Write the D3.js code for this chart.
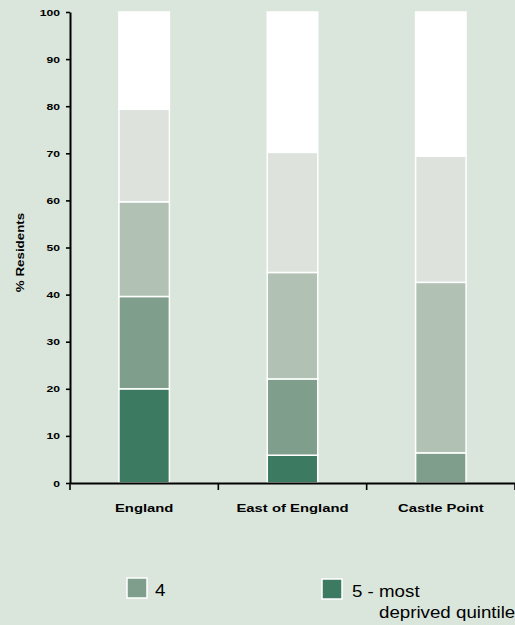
<!DOCTYPE html>
<html>
<head>
<meta charset="utf-8">
<script src="https://cdn.jsdelivr.net/npm/d3@7"></script>
<style>
  html, body { margin: 0; padding: 0; background: #dae6dc; }
  svg { display: block; }
  text { font-family: "Liberation Sans", Arial, sans-serif; fill: #000; }
</style>
</head>
<body>
<svg id="chart" width="515" height="625"></svg>
<script>
// ---- data ----
const categories = ["England", "East of England", "Castle Point"];
const seriesKeys = ["q5", "q4", "q3", "q2", "q1"]; // bottom to top
const seriesLabels = {
  q1: "1 - least deprived quintile",
  q2: "2",
  q3: "3",
  q4: "4",
  q5: "5 - most deprived quintile"
};
const q5 = [20.0, 5.9, 0.0];
const q4 = [19.6, 16.2, 6.4];
const q3 = [20.1, 22.6, 36.2];
const q2 = [19.7, 25.5, 26.8];
const q1 = [20.6, 29.8, 30.6];
const yTicks = [0, 10, 20, 30, 40, 50, 60, 70, 80, 90, 100];
const yLabel = "% Residents";
const legendKeys = ["q4", "q5"];

// ---- styles ----
const colors = { q1: "#ffffff", q2: "#dde2dd", q3: "#b1c1b4", q4: "#7f9e8b", q5: "#3c7a61" };

const rows = categories.map((c, i) => ({ cat: c, q1: q1[i], q2: q2[i], q3: q3[i], q4: q4[i], q5: q5[i] }));

const svg = d3.select("#chart");
const axisX = 70, plotRight = 515, yTop = 12, yBottom = 483;

const x = d3.scaleBand().domain(categories).range([axisX, plotRight]).padding(0);
const y = d3.scaleLinear().domain([0, 100]).range([yBottom, yTop]);
const barW = x.bandwidth() * 0.34;

const stacked = d3.stack().keys(seriesKeys)(rows);

// bars
svg.append("g").selectAll("g").data(stacked).join("g")
  .attr("fill", d => colors[d.key])
  .selectAll("rect").data(d => d.filter(s => s[1] - s[0] > 0)).join("rect")
  .attr("x", d => x(d.data.cat) + (x.bandwidth() - barW) / 2)
  .attr("width", barW)
  .attr("y", d => y(d[1]))
  .attr("height", d => y(d[0]) - y(d[1]))
  .attr("stroke", "#ffffff")
  .attr("stroke-width", 1.5);

// y axis
const gy = svg.append("g").attr("transform", `translate(${axisX},0)`)
  .call(d3.axisLeft(y).tickValues(yTicks).tickSize(4).tickSizeOuter(0).tickFormat(d3.format("d")));
gy.select(".domain").attr("stroke", "#000").attr("stroke-width", 2);
gy.selectAll(".tick line").attr("stroke", "#000").attr("stroke-width", 1.6);
gy.selectAll(".tick text")
  .attr("x", 0).attr("dy", "0.34em")
  .attr("transform", "translate(-10,0) scale(1.35,1)")
  .attr("text-anchor", "end")
  .style("font-size", "9px").style("font-weight", "bold").style("fill", "#000");

// x axis
const gx = svg.append("g").attr("transform", `translate(0,${yBottom})`)
  .call(d3.axisBottom(x).tickSize(0).tickSizeOuter(0));
gx.select(".domain").attr("stroke", "#000").attr("stroke-width", 2);
gx.selectAll(".tick text")
  .attr("y", 0).attr("dy", 0)
  .attr("transform", "translate(0,29) scale(1.29,1)")
  .attr("text-anchor", "middle")
  .style("font-size", "11.5px").style("font-weight", "bold").style("fill", "#000");
// boundary ticks
const bounds = categories.map(c => x(c)).concat([x.range()[1]]);
gx.selectAll(".bound").data(bounds).join("line").attr("class", "bound")
  .attr("x1", d => d).attr("x2", d => d)
  .attr("y1", 0).attr("y2", 7)
  .attr("stroke", "#000").attr("stroke-width", 1.6);

// y label
svg.append("text")
  .attr("transform", `translate(24,${(yTop + yBottom) / 2 + 5}) rotate(-90) scale(1.27,1)`)
  .attr("text-anchor", "middle")
  .style("font-size", "10.5px").style("font-weight", "bold")
  .text(yLabel);

// legend
const legendPos = {
  q4: { rx: 127, ry: 578, tx: 155, ty: 596, lines: [seriesLabels.q4] },
  q5: { rx: 322, ry: 579, tx: 352, ty: 597, lines: ["5 - most", "deprived quintile"], indent: 27 }
};
const lg = svg.append("g");
legendKeys.forEach(k => {
  const p = legendPos[k];
  lg.append("rect").attr("x", p.rx).attr("y", p.ry).attr("width", 20).attr("height", 20)
    .attr("fill", colors[k]).attr("stroke", "#ffffff").attr("stroke-width", 1.5);
  p.lines.forEach((ln, i) => {
    lg.append("text")
      .attr("transform", `translate(${p.tx + (i ? p.indent : 0)},${p.ty + i * 21}) scale(1.17,1)`)
      .style("font-size", "16px")
      .text(ln);
  });
});
</script>
</body>
</html>
